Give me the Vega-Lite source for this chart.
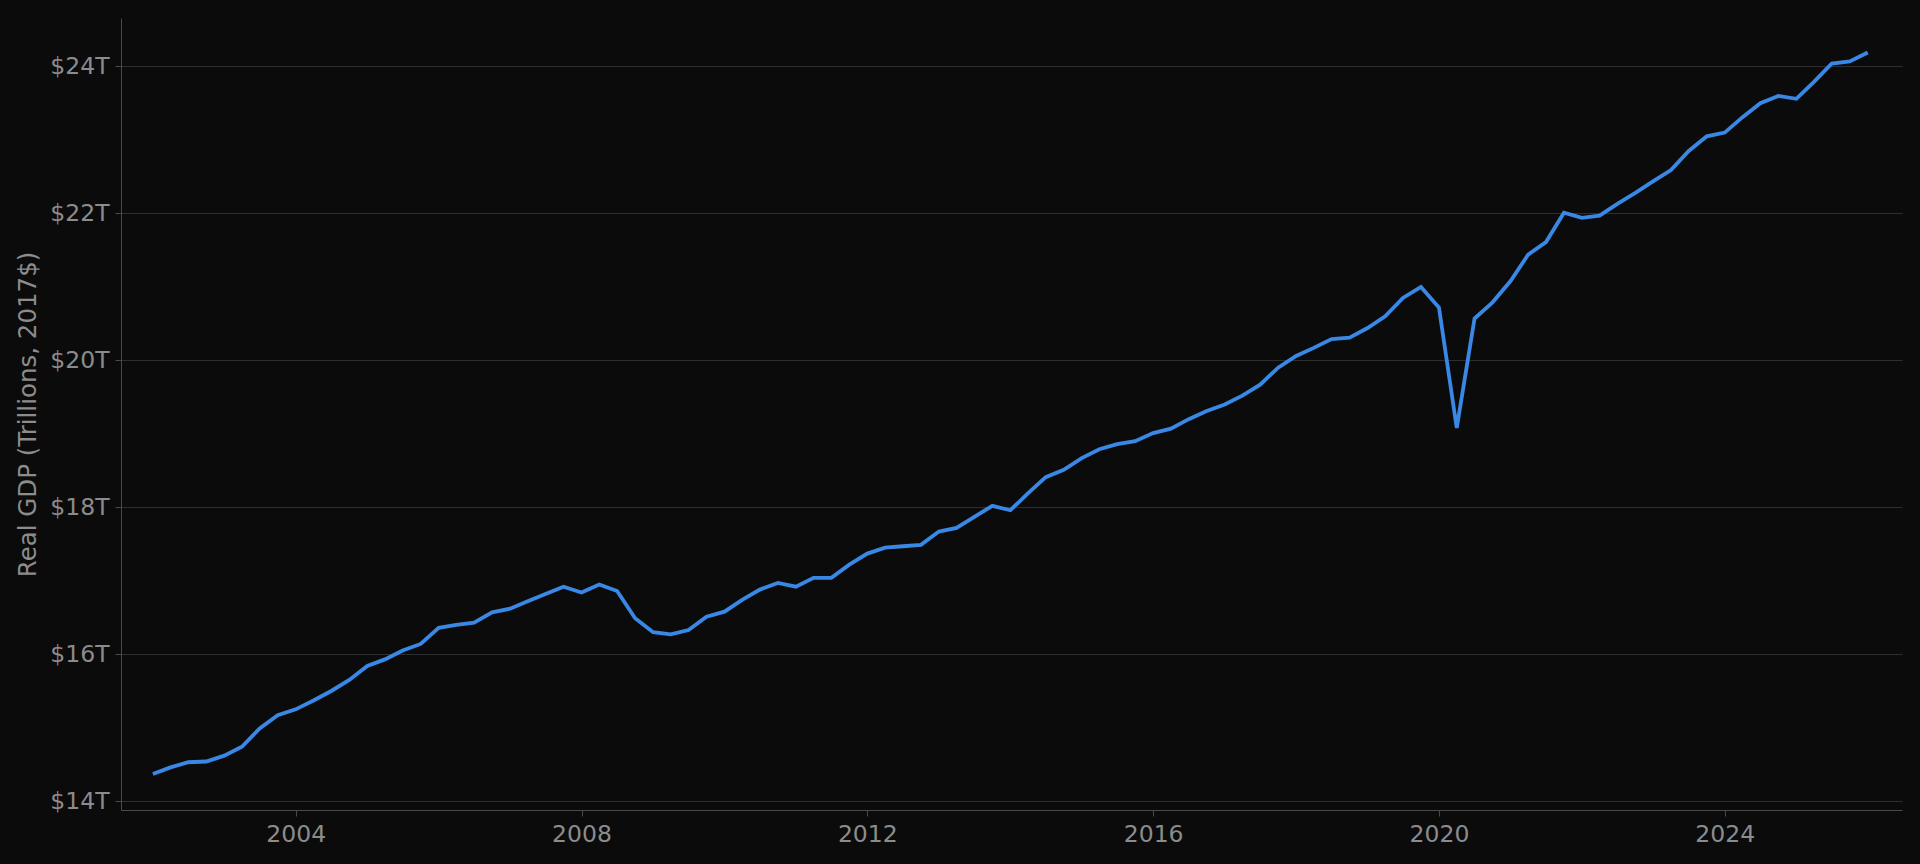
{
  "$schema": "https://vega.github.io/schema/vega-lite/v6.json",
  "width": 1781,
  "height": 792,
  "autosize": {"type": "none"},
  "padding": {"left": 121, "top": 18, "right": 18, "bottom": 54},
  "background": "#0b0b0b",
  "config": {
    "view": {"stroke": null},
    "axis": {
      "domainColor": "#4a4a4a",
      "tickColor": "#4a4a4a",
      "gridColor": "#2e2e2e",
      "labelColor": "#8c8c8c",
      "titleColor": "#8c8c8c",
      "labelFont": "DejaVu Sans",
      "titleFont": "DejaVu Sans",
      "titleFontWeight": "normal",
      "labelFontSize": 23.5,
      "titleFontSize": 24.5,
      "tickSize": 6,
      "labelPadding": 6
    }
  },
  "data": {
    "values": [
      {"date": "2002-01-01", "gdp": 14.37},
      {"date": "2002-04-01", "gdp": 14.46},
      {"date": "2002-07-01", "gdp": 14.53},
      {"date": "2002-10-01", "gdp": 14.54},
      {"date": "2003-01-01", "gdp": 14.62},
      {"date": "2003-04-01", "gdp": 14.74},
      {"date": "2003-07-01", "gdp": 14.99},
      {"date": "2003-10-01", "gdp": 15.17},
      {"date": "2004-01-01", "gdp": 15.25},
      {"date": "2004-04-01", "gdp": 15.37},
      {"date": "2004-07-01", "gdp": 15.50},
      {"date": "2004-10-01", "gdp": 15.65},
      {"date": "2005-01-01", "gdp": 15.84},
      {"date": "2005-04-01", "gdp": 15.93},
      {"date": "2005-07-01", "gdp": 16.05},
      {"date": "2005-10-01", "gdp": 16.14},
      {"date": "2006-01-01", "gdp": 16.36},
      {"date": "2006-04-01", "gdp": 16.40},
      {"date": "2006-07-01", "gdp": 16.43},
      {"date": "2006-10-01", "gdp": 16.57},
      {"date": "2007-01-01", "gdp": 16.62},
      {"date": "2007-04-01", "gdp": 16.72},
      {"date": "2007-07-01", "gdp": 16.82},
      {"date": "2007-10-01", "gdp": 16.92},
      {"date": "2008-01-01", "gdp": 16.84},
      {"date": "2008-04-01", "gdp": 16.95},
      {"date": "2008-07-01", "gdp": 16.86},
      {"date": "2008-10-01", "gdp": 16.49},
      {"date": "2009-01-01", "gdp": 16.30},
      {"date": "2009-04-01", "gdp": 16.27},
      {"date": "2009-07-01", "gdp": 16.33},
      {"date": "2009-10-01", "gdp": 16.51},
      {"date": "2010-01-01", "gdp": 16.58},
      {"date": "2010-04-01", "gdp": 16.74},
      {"date": "2010-07-01", "gdp": 16.88},
      {"date": "2010-10-01", "gdp": 16.97},
      {"date": "2011-01-01", "gdp": 16.92},
      {"date": "2011-04-01", "gdp": 17.04},
      {"date": "2011-07-01", "gdp": 17.04},
      {"date": "2011-10-01", "gdp": 17.22},
      {"date": "2012-01-01", "gdp": 17.37},
      {"date": "2012-04-01", "gdp": 17.45},
      {"date": "2012-07-01", "gdp": 17.47},
      {"date": "2012-10-01", "gdp": 17.49},
      {"date": "2013-01-01", "gdp": 17.67},
      {"date": "2013-04-01", "gdp": 17.72},
      {"date": "2013-07-01", "gdp": 17.87},
      {"date": "2013-10-01", "gdp": 18.02},
      {"date": "2014-01-01", "gdp": 17.96},
      {"date": "2014-04-01", "gdp": 18.19},
      {"date": "2014-07-01", "gdp": 18.41},
      {"date": "2014-10-01", "gdp": 18.51},
      {"date": "2015-01-01", "gdp": 18.67},
      {"date": "2015-04-01", "gdp": 18.79},
      {"date": "2015-07-01", "gdp": 18.86},
      {"date": "2015-10-01", "gdp": 18.90},
      {"date": "2016-01-01", "gdp": 19.01},
      {"date": "2016-04-01", "gdp": 19.07},
      {"date": "2016-07-01", "gdp": 19.20},
      {"date": "2016-10-01", "gdp": 19.31},
      {"date": "2017-01-01", "gdp": 19.40},
      {"date": "2017-04-01", "gdp": 19.52},
      {"date": "2017-07-01", "gdp": 19.67},
      {"date": "2017-10-01", "gdp": 19.90},
      {"date": "2018-01-01", "gdp": 20.06},
      {"date": "2018-04-01", "gdp": 20.17},
      {"date": "2018-07-01", "gdp": 20.29},
      {"date": "2018-10-01", "gdp": 20.31},
      {"date": "2019-01-01", "gdp": 20.44},
      {"date": "2019-04-01", "gdp": 20.60},
      {"date": "2019-07-01", "gdp": 20.85},
      {"date": "2019-10-01", "gdp": 21.00},
      {"date": "2020-01-01", "gdp": 20.72},
      {"date": "2020-04-01", "gdp": 19.08},
      {"date": "2020-07-01", "gdp": 20.57},
      {"date": "2020-10-01", "gdp": 20.79},
      {"date": "2021-01-01", "gdp": 21.08},
      {"date": "2021-04-01", "gdp": 21.44},
      {"date": "2021-07-01", "gdp": 21.61},
      {"date": "2021-10-01", "gdp": 22.01},
      {"date": "2022-01-01", "gdp": 21.94},
      {"date": "2022-04-01", "gdp": 21.97},
      {"date": "2022-07-01", "gdp": 22.13},
      {"date": "2022-10-01", "gdp": 22.28},
      {"date": "2023-01-01", "gdp": 22.44},
      {"date": "2023-04-01", "gdp": 22.59},
      {"date": "2023-07-01", "gdp": 22.85},
      {"date": "2023-10-01", "gdp": 23.05},
      {"date": "2024-01-01", "gdp": 23.10},
      {"date": "2024-04-01", "gdp": 23.31},
      {"date": "2024-07-01", "gdp": 23.50},
      {"date": "2024-10-01", "gdp": 23.60},
      {"date": "2025-01-01", "gdp": 23.56},
      {"date": "2025-04-01", "gdp": 23.79},
      {"date": "2025-07-01", "gdp": 24.04},
      {"date": "2025-10-01", "gdp": 24.07},
      {"date": "2026-01-01", "gdp": 24.19}
    ]
  },
  "mark": {"type": "line", "color": "#3a88e6", "strokeWidth": 3.8},
  "encoding": {
    "x": {
      "field": "date",
      "type": "temporal",
      "scale": {"type": "utc", "domain": ["2001-07-22", "2026-06-25"]},
      "axis": {
        "title": null,
        "grid": false,
        "format": "%Y",
        "values": [
          {"year": 2004, "utc": true},
          {"year": 2008, "utc": true},
          {"year": 2012, "utc": true},
          {"year": 2016, "utc": true},
          {"year": 2020, "utc": true},
          {"year": 2024, "utc": true}
        ]
      }
    },
    "y": {
      "field": "gdp",
      "type": "quantitative",
      "scale": {"domain": [13.88, 24.66], "nice": false, "zero": false},
      "axis": {
        "title": "Real GDP (Trillions, 2017$)",
        "grid": true,
        "values": [14, 16, 18, 20, 22, 24],
        "labelExpr": "'$' + datum.value + 'T'",
        "titlePadding": 9
      }
    }
  }
}
